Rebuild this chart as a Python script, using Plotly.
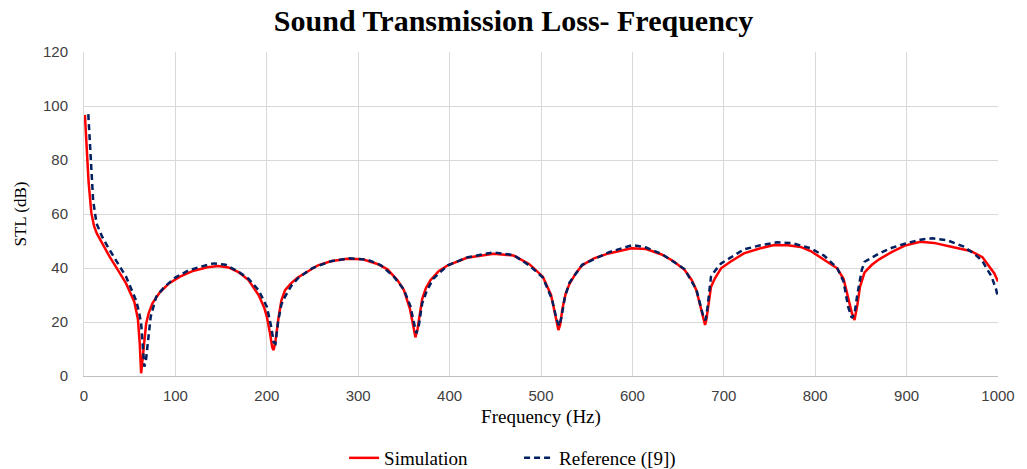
import plotly.graph_objects as go

freq_sim = [1, 3, 5, 8, 11, 14, 20, 28, 37, 46, 55, 59, 61, 62.5, 64, 66, 68, 71, 75, 83, 93, 105, 120, 135, 147, 158, 169, 180, 191, 197, 200, 203.5, 206, 207.5, 209.5, 212.6, 216, 220, 227, 234, 245, 256, 270, 288, 305, 321, 332, 343, 350, 356.5, 360, 362.6, 365, 367, 370, 374, 379, 388, 398, 419, 448, 470, 487, 502, 511, 516, 519, 521, 523.5, 527, 531, 538, 545, 558, 574, 599, 615, 632, 645, 657, 665, 670, 675, 678, 679.5, 681, 683, 686, 690, 697, 708, 722, 740, 755, 770, 784, 795, 808, 817, 824, 831, 836, 840, 843, 846, 849, 854, 862, 870, 884, 898, 915, 930, 950, 970, 983, 990, 996, 1000]
stl_sim = [96.7, 84, 72, 60.5, 55.5, 52.8, 49, 44.2, 39.3, 34.3, 27.5, 21, 12, 1, 6, 14, 19.5, 23.5, 27, 31, 34.3, 36.8, 39, 40.3, 40.7, 40.2, 38.5, 35.5, 30, 25.5, 22, 15.8, 10.5, 9.6, 13, 21, 28, 31.8, 34.5, 36.5, 38.8, 41, 42.5, 43.4, 43.2, 41.5, 39.5, 35.5, 31.8, 25, 19, 14.3, 17.5, 22, 28.5, 32.5, 35.5, 38.8, 41, 43.8, 45.3, 44.6, 41.5, 36.8, 30, 22, 17, 19, 25, 30.5, 34, 38, 41, 43.6, 45.4, 47.3, 47, 45, 42.5, 39.3, 35.5, 31.8, 24.4, 20.5, 18.9, 21, 26.5, 33, 36, 39.9, 42.5, 45.4, 47.3, 48.5, 48.4, 47.8, 46.3, 43.5, 41.5, 39.9, 36, 29, 23.5, 20.7, 26, 33, 38.4, 41.2, 43.2, 46, 48.3, 49.7, 49.3, 47.8, 46.3, 44, 40.8, 38, 35]

freq_ref = [4.7, 6, 8, 10, 13.7, 20, 28, 37, 46, 57, 60, 62.5, 64.5, 66, 67.5, 70, 73, 79, 88, 100, 115, 130, 142, 155, 169, 180, 191, 200, 205, 207.5, 209.5, 212.6, 216, 220, 227, 235, 250, 270, 290, 310, 325, 339, 350, 357, 361, 363.5, 366, 370, 375, 382, 398, 420, 448, 470, 487, 502, 512, 517, 520, 522.5, 526, 531, 545, 574, 600, 615, 632, 657, 670, 675, 678, 680, 682, 686, 690, 697, 710, 722, 740, 758, 775, 795, 810, 824, 831, 836, 840, 843, 846, 851, 854, 862, 870, 884, 898, 915, 928, 945, 962, 975, 983, 993, 998, 1000]
stl_ref = [97, 90, 75, 65, 56.5, 51.5, 46.7, 41.8, 36.8, 28, 24, 19.5, 9, 3.5, 5, 12, 22, 29.4, 33, 36.5, 39.2, 40.7, 41.7, 41.2, 38.6, 36, 31.8, 25.7, 18, 12.5, 12, 20.7, 26.5, 29.4, 33.5, 36.5, 40, 42.5, 43.6, 43.1, 41, 36.8, 32, 26, 20, 15.8, 18, 26.9, 31.5, 36, 41, 44, 45.8, 44.8, 41, 36.5, 28.5, 21, 18.5, 22, 29, 34.5, 41.2, 45.8, 48.5, 47.6, 45.2, 39.6, 32, 25, 21.5, 20.7, 25, 36.8, 38.8, 41.7, 44.5, 46.9, 48.4, 49.5, 49.2, 47.3, 44.5, 40, 35, 25.7, 21.5, 23, 30, 39.3, 42.3, 44, 45.4, 47.5, 49, 50.5, 51, 50.2, 48, 45, 42.5, 36.8, 32, 29]

x_ticks = [0, 100, 200, 300, 400, 500, 600, 700, 800, 900, 1000]
y_ticks = [0, 20, 40, 60, 80, 100, 120]

fig = go.Figure()
fig.add_trace(go.Scatter(x=freq_sim, y=stl_sim, mode="lines", name="Simulation",
                         line=dict(color="#FF0000", width=2.5)))
fig.add_trace(go.Scatter(x=freq_ref, y=stl_ref, mode="lines", name="Reference ([9])",
                         line=dict(color="#002060", width=2.5, dash="6px,4px")))

fig.update_layout(
    width=1027, height=469,
    margin=dict(l=84, r=21, t=52, b=93),
    paper_bgcolor="white", plot_bgcolor="white",
    title=dict(text="<b>Sound Transmission Loss- Frequency</b>", x=0.5, xanchor="center",
               y=1 - 20 / 469, yanchor="middle",
               font=dict(family="Liberation Serif", size=30, color="black")),
    legend=dict(orientation="h", x=0.476, xanchor="center", yref="container",
                y=1 - 458 / 469, yanchor="middle",
                font=dict(family="Liberation Serif", size=19, color="black"),
                entrywidthmode="pixels", entrywidth=130),
    showlegend=True,
)
fig.update_xaxes(range=[0, 1000], tickvals=x_ticks, showgrid=True, gridcolor="#d9d9d9", gridwidth=1,
                 showline=True, linecolor="#bfbfbf", linewidth=1, zeroline=False, ticks="",
                 ticklabelstandoff=6,
                 tickfont=dict(family="Liberation Sans", size=15, color="#404040"),
                 title=dict(text="Frequency (Hz)", standoff=6,
                            font=dict(family="Liberation Serif", size=19, color="black")))
fig.update_yaxes(range=[0, 120], tickvals=y_ticks, showgrid=True, gridcolor="#d9d9d9", gridwidth=1,
                 showline=True, linecolor="#d9d9d9", linewidth=1, zeroline=False, ticks="",
                 ticklabelstandoff=12,
                 tickfont=dict(family="Liberation Sans", size=15, color="#404040"),
                 title=dict(text="STL (dB)", standoff=12,
                            font=dict(family="Liberation Serif", size=17, color="black")))

fig.write_html("out.html")
